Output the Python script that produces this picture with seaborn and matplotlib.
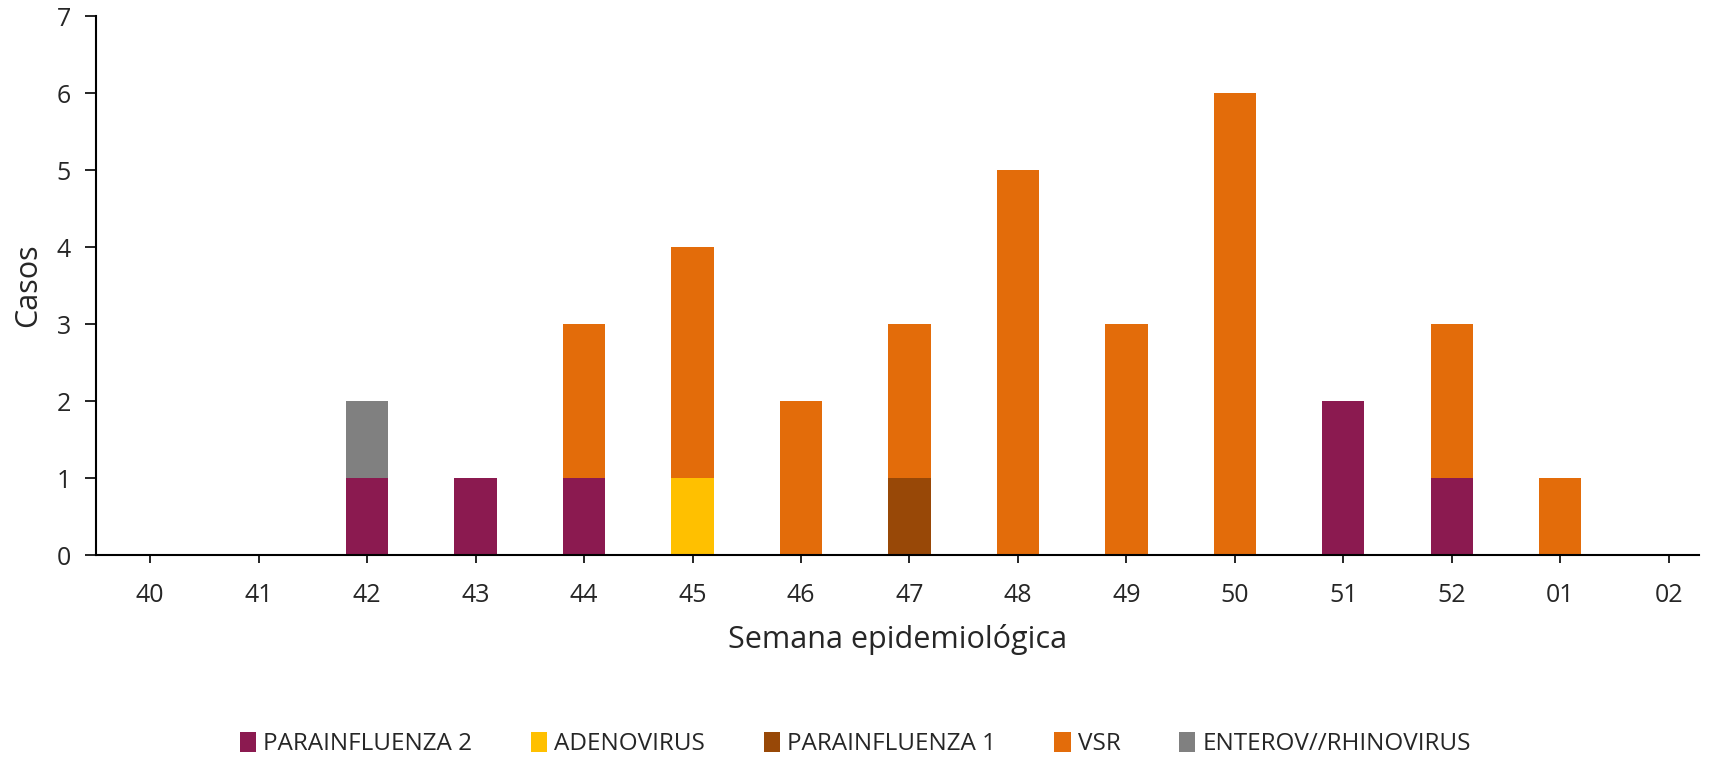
import numpy as np
import pandas as pd
import seaborn as sns
import matplotlib.pyplot as plt

# Datos: casos por semana epidemiológica y virus
semanas = ['40', '41', '42', '43', '44', '45', '46', '47', '48', '49', '50', '51', '52', '01', '02']
parainfluenza_2 = [0, 0, 1, 1, 1, 0, 0, 0, 0, 0, 0, 2, 1, 0, 0]
adenovirus = [0, 0, 0, 0, 0, 1, 0, 0, 0, 0, 0, 0, 0, 0, 0]
parainfluenza_1 = [0, 0, 0, 0, 0, 0, 0, 1, 0, 0, 0, 0, 0, 0, 0]
vsr = [0, 0, 0, 0, 2, 3, 2, 2, 5, 3, 6, 0, 2, 1, 0]
enterov_rhinovirus = [0, 0, 1, 0, 0, 0, 0, 0, 0, 0, 0, 0, 0, 0, 0]

series = [
    ('PARAINFLUENZA 2', parainfluenza_2, '#8B1A50'),
    ('ADENOVIRUS', adenovirus, '#FFC000'),
    ('PARAINFLUENZA 1', parainfluenza_1, '#984807'),
    ('VSR', vsr, '#E36C0A'),
    ('ENTEROV//RHINOVIRUS', enterov_rhinovirus, '#808080'),
]

sns.set_style('white')
plt.rcParams['font.family'] = ['Open Sans', 'DejaVu Sans']

fig = plt.figure(figsize=(17.11, 7.63), dpi=100)
ax = fig.add_axes([0.0561, 0.2726, 0.9369, 0.7064])

# Barras apiladas
bottom = np.zeros(len(semanas))
for name, vals, color in series:
    sns.barplot(x=semanas, y=vals, bottom=bottom, color=color, width=0.39,
                saturation=1, order=semanas, ax=ax, label=name, linewidth=0)
    bottom += np.array(vals)

handles, labels = ax.get_legend_handles_labels()
if ax.get_legend() is not None:
    ax.get_legend().remove()

ax.set_xlim(-0.5, 14.28)
ax.set_ylim(0, 7)
ax.set_yticks(range(0, 8))

for side in ['top', 'right']:
    ax.spines[side].set_visible(False)
for side in ['left', 'bottom']:
    ax.spines[side].set_color('black')
    ax.spines[side].set_linewidth(1.5)

ax.tick_params(axis='y', direction='out', length=8, width=1.2, color='black',
               labelsize=18, pad=10, left=True)
ax.tick_params(axis='x', direction='out', length=6, width=1.2, color='black',
               labelsize=18, pad=14, bottom=True)

ax.set_ylabel('Casos', fontsize=22, labelpad=10)
ax.set_xlabel('Semana epidemiológica', fontsize=22, labelpad=12)

fig.legend(handles, labels, loc='center', bbox_to_anchor=(0.5, 0.025), ncol=5,
           frameon=False, fontsize=17.5, handlelength=0.67, handleheight=0.9,
           handletextpad=0.3, columnspacing=2.4)

plt.savefig('out.png', dpi=100)
